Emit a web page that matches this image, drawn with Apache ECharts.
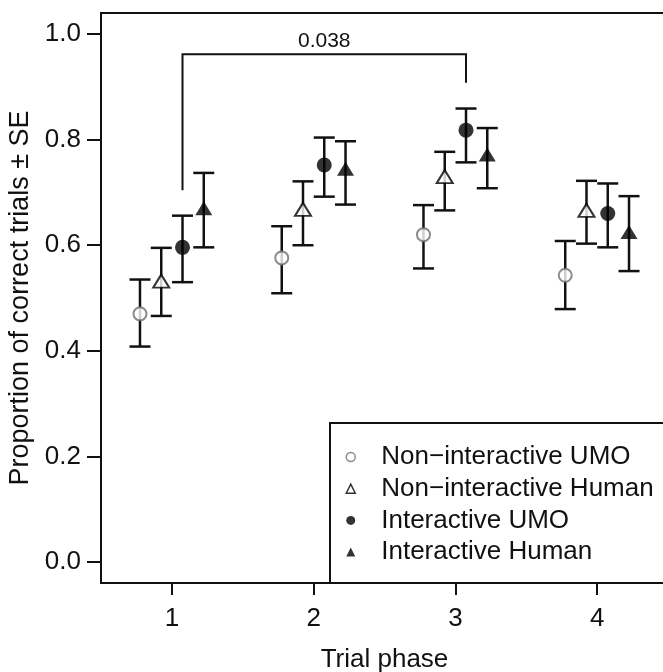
<!DOCTYPE html>
<html><head><meta charset="utf-8">
<script src="https://cdn.jsdelivr.net/npm/echarts@6/dist/echarts.min.js"></script>
<style>html,body{margin:0;padding:0;background:#fff}#c{width:663px;height:672px}</style>
</head><body><div id="c"></div>
<script>
// ---- data ----
const phases = [1, 2, 3, 4];
const xTickValues = [1, 2, 3, 4];
const yTickValues = [0, 0.2, 0.4, 0.6, 0.8, 1.0];
const seriesNames = ['Non\u2212interactive UMO', 'Non\u2212interactive Human', 'Interactive UMO', 'Interactive Human'];
const groupOffsets = [-0.225, -0.075, 0.075, 0.225];

const niUmoMean  = [0.470, 0.576, 0.620, 0.543];
const niUmoLow   = [0.408, 0.509, 0.556, 0.479];
const niUmoHigh  = [0.535, 0.636, 0.676, 0.608];

const niHumMean  = [0.532, 0.668, 0.730, 0.666];
const niHumLow   = [0.466, 0.600, 0.666, 0.603];
const niHumHigh  = [0.595, 0.721, 0.777, 0.722];

const iUmoMean   = [0.596, 0.752, 0.818, 0.660];
const iUmoLow    = [0.530, 0.692, 0.757, 0.596];
const iUmoHigh   = [0.656, 0.804, 0.859, 0.717];

const iHumMean   = [0.670, 0.745, 0.772, 0.625];
const iHumLow    = [0.596, 0.677, 0.708, 0.551];
const iHumHigh   = [0.737, 0.797, 0.822, 0.693];

const bracketX = [1.075, 3.075];
const bracketLow = [0.704, 0.908];
const bracketTop = 0.962;
const pValueText = '0.038';
const pValueY = 0.987;

// ---- chart ----
const FONT = "'Liberation Sans', Arial, sans-serif";
const means = [niUmoMean, niHumMean, iUmoMean, iHumMean];
const lows = [niUmoLow, niHumLow, iUmoLow, iHumLow];
const highs = [niUmoHigh, niHumHigh, iUmoHigh, iHumHigh];

const symbolStyles = [
  { symbol: 'circle', size: 13, itemStyle: { color: '#fff', borderColor: '#6e6e6e', borderWidth: 2 } },
  { symbol: 'triangle', size: [16, 13], itemStyle: { color: '#fff', borderColor: '#000', borderWidth: 2 } },
  { symbol: 'circle', size: 15, itemStyle: { color: '#000', borderWidth: 0 } },
  { symbol: 'triangle', size: [17, 14], itemStyle: { color: '#000', borderWidth: 0 } }
];

const series = [];
for (let g = 0; g < 4; g++) {
  series.push({
    type: 'custom',
    name: 'eb' + g,
    z: 2,
    data: phases.map((p, i) => [p + groupOffsets[g], lows[g][i], highs[g][i]]),
    encode: { x: 0, y: [1, 2] },
    silent: true,
    renderItem: function (params, api) {
      const x = api.value(0);
      const lo = api.coord([x, api.value(1)]);
      const hi = api.coord([x, api.value(2)]);
      const hw = 10.5;
      const st = { stroke: '#111', lineWidth: 2.5 };
      return {
        type: 'group',
        children: [
          { type: 'line', shape: { x1: lo[0], y1: lo[1], x2: hi[0], y2: hi[1] }, style: st },
          { type: 'line', shape: { x1: lo[0] - hw, y1: lo[1], x2: lo[0] + hw, y2: lo[1] }, style: st },
          { type: 'line', shape: { x1: hi[0] - hw, y1: hi[1], x2: hi[0] + hw, y2: hi[1] }, style: st }
        ]
      };
    }
  });
}
for (let g = 0; g < 4; g++) {
  series.push({
    type: 'scatter',
    name: seriesNames[g],
    z: 3,
    symbol: symbolStyles[g].symbol,
    symbolSize: symbolStyles[g].size,
    itemStyle: symbolStyles[g].itemStyle,
    data: phases.map((p, i) => [p + groupOffsets[g], means[g][i]])
  });
}
series.push({
  type: 'custom',
  name: 'bracket',
  z: 3,
  silent: true,
  data: [[bracketX[0], bracketLow[0], bracketX[1], bracketLow[1], bracketTop]],
  renderItem: function (params, api) {
    const a = api.coord([api.value(0), api.value(1)]);
    const b = api.coord([api.value(0), api.value(4)]);
    const c = api.coord([api.value(2), api.value(4)]);
    const d = api.coord([api.value(2), api.value(3)]);
    const t = api.coord([(api.value(0) + api.value(2)) / 2, pValueY]);
    return {
      type: 'group',
      children: [
        { type: 'polyline', shape: { points: [a, b, c, d] }, style: { stroke: '#111', lineWidth: 2, fill: null } },
        { type: 'text', style: { text: pValueText, x: t[0], y: t[1], textAlign: 'center', textVerticalAlign: 'middle',
          fontSize: 21, fontFamily: FONT, fill: '#111' } }
      ]
    };
  }
});

const chart = echarts.init(document.getElementById('c'), null, { renderer: 'canvas' });
chart.setOption({
  animation: false,
  backgroundColor: '#fff',
  grid: {
    left: 101, top: 13, width: 567, height: 570,
    show: true, borderColor: '#111', borderWidth: 2, backgroundColor: 'transparent',
    outerBoundsMode: 'none', containLabel: false
  },
  xAxis: {
    type: 'value', min: 0.5, max: 4.5,
    name: 'Trial phase', nameLocation: 'middle', nameGap: 64,
    nameTextStyle: { fontSize: 26, fontFamily: FONT, color: '#111', verticalAlign: 'top' },
    axisLine: { show: false, onZero: false },
    splitLine: { show: false },
    axisTick: { show: true, length: 12, lineStyle: { color: '#111', width: 2 }, customValues: xTickValues },
    axisLabel: { fontSize: 26, fontFamily: FONT, color: '#111', margin: 23, customValues: xTickValues,
      formatter: v => String(v) }
  },
  yAxis: {
    type: 'value', min: -0.04, max: 1.04,
    name: 'Proportion of correct trials \u00b1 SE', nameLocation: 'middle', nameRotate: 90, nameGap: 65,
    nameTextStyle: { fontSize: 27, fontFamily: FONT, color: '#111' },
    axisLine: { show: false, onZero: false },
    splitLine: { show: false },
    axisTick: { show: true, length: 14, lineStyle: { color: '#111', width: 2 }, customValues: yTickValues },
    axisLabel: { fontSize: 26, fontFamily: FONT, color: '#111', margin: 20, customValues: yTickValues,
      formatter: v => Number(v).toFixed(1) }
  },
  legend: {
    data: seriesNames,
    orient: 'vertical',
    left: 345.5, top: 444,
    padding: 0,
    itemWidth: 9, itemHeight: 9,
    itemGap: 5.7,
    itemStyle: { borderWidth: 1.5 },
    selectedMode: false,
    textStyle: { fontSize: 26, lineHeight: 26, fontFamily: FONT, color: '#111', padding: [0, 0, 0, 21] }
  },
  graphic: [
    { type: 'rect', z: 1, shape: { x: 330, y: 423, width: 400, height: 160 },
      style: { fill: 'transparent', stroke: '#111', lineWidth: 2 } }
  ],
  series: series
});
</script>
</body></html>
